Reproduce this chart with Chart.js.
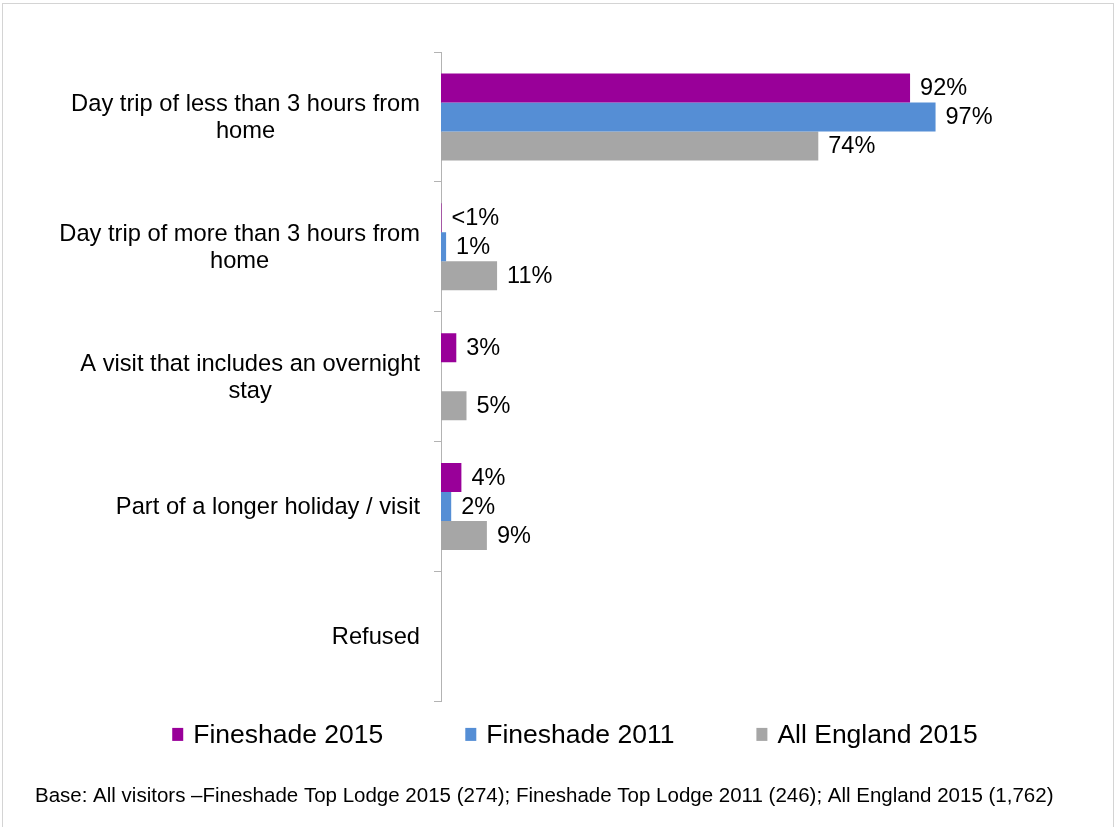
<!DOCTYPE html>
<html>
<head>
<meta charset="utf-8">
<title>Type of visit</title>
<script src="https://cdn.jsdelivr.net/npm/chart.js@4.4.1/dist/chart.umd.min.js"></script>
<style>
    html, body { margin: 0; padding: 0; background: #fff; }
    #wrap { position: relative; width: 1114px; height: 827px; overflow: hidden; }
    #frame { position: absolute; left: 2px; top: 3px; width: 1110px; height: 840px; border: 1px solid #d4d4d4; }
    canvas { position: absolute; left: 0; top: 0; }
</style>
</head>
<body>
<div id="wrap">
    <div id="frame"></div>
    <canvas id="visitChart" width="1114" height="827"></canvas>
</div>
<script>
// categories (each entry is the wrapped lines of one label)
const categories = [
    ['Day trip of less than 3 hours from', 'home'],
    ['Day trip of more than 3 hours from', 'home'],
    ['A visit that includes an overnight', 'stay'],
    ['Part of a longer holiday / visit'],
    ['Refused']
];

// percentages per series, null = no answer recorded
const fineshade2015 = [92, 0.1, 3, 4, null];
const fineshade2011 = [97, 1, null, 2, null];
const allEngland2015 = [74, 11, 5, 9, null];

const seriesNames = ['Fineshade 2015', 'Fineshade 2011', 'All England 2015'];
const seriesColours = ['#990099', '#558ed5', '#a6a6a6'];

const baseNote = 'Base: All visitors –Fineshade Top Lodge 2015 (274); Fineshade Top Lodge 2011 (246); All England 2015 (1,762)';

const FONT = 'Arial, "Liberation Sans", sans-serif';
Chart.defaults.font.family = FONT;
Chart.defaults.color = '#000';

function pctLabel(v) {
    return v < 1 ? '<1%' : v + '%';
}

// wrapped category names, right aligned block with centred lines
const categoryLabels = {
    id: 'categoryLabels',
    afterDraw(chart) {
        const y = chart.scales.y;
        const ctx = chart.ctx;
        ctx.save();
        ctx.font = '23.7px ' + FONT;
        ctx.fillStyle = '#000';
        ctx.textAlign = 'center';
        ctx.textBaseline = 'middle';
        const right = y.right - 21;
        categories.forEach((lines, i) => {
            const w = Math.max(...lines.map(l => ctx.measureText(l).width));
            const cy = y.getPixelForValue(i) + 1;
            const top = cy - (lines.length - 1) * 27 / 2;
            lines.forEach((l, j) => ctx.fillText(l, right - w / 2, top + j * 27));
        });
        ctx.restore();
    }
};

// percentage next to the end of each bar
const valueLabels = {
    id: 'valueLabels',
    afterDatasetsDraw(chart) {
        const ctx = chart.ctx;
        ctx.save();
        ctx.font = '23.5px ' + FONT;
        ctx.fillStyle = '#000';
        ctx.textAlign = 'left';
        ctx.textBaseline = 'middle';
        chart.data.datasets.forEach((ds, di) => {
            const meta = chart.getDatasetMeta(di);
            meta.data.forEach((bar, i) => {
                const v = ds.data[i];
                if (v === null || v === undefined) return;
                ctx.fillText(pctLabel(v), bar.x + 10, bar.y + 1);
            });
        });
        ctx.restore();
    }
};

// legend row under the plot
const legendRow = {
    id: 'legendRow',
    afterDraw(chart) {
        const ctx = chart.ctx;
        const box = 11, gap = 10, spacing = 82;
        ctx.save();
        ctx.font = '26.5px ' + FONT;
        ctx.textAlign = 'left';
        ctx.textBaseline = 'middle';
        const widths = chart.data.datasets.map(ds => box + gap + ctx.measureText(ds.label).width);
        const total = widths.reduce((a, b) => a + b, 0) + spacing * (widths.length - 1);
        let x = 575 - total / 2;
        const cy = chart.chartArea.bottom + 33;
        chart.data.datasets.forEach((ds, i) => {
            ctx.fillStyle = ds.backgroundColor;
            ctx.fillRect(x, cy - 6.5, box, 13);
            ctx.fillStyle = '#000';
            ctx.fillText(ds.label, x + box + gap, cy + 1);
            x += widths[i] + spacing;
        });
        ctx.restore();
    }
};

const ctx = document.getElementById('visitChart').getContext('2d');
const visitChart = new Chart(ctx, {
    type: 'bar',
    data: {
        labels: categories,
        datasets: [fineshade2015, fineshade2011, allEngland2015].map((values, i) => ({
            label: seriesNames[i],
            data: values,
            backgroundColor: seriesColours[i],
            borderWidth: 0,
            categoryPercentage: 0.67,
            barPercentage: 1
        }))
    },
    options: {
        indexAxis: 'y',
        responsive: false,
        animation: false,
        layout: {
            padding: { left: 35, right: 0, top: 52, bottom: 0 }
        },
        scales: {
            x: {
                display: false,
                min: 0,
                max: 132
            },
            y: {
                grid: {
                    offset: true,
                    drawOnChartArea: false,
                    tickLength: 7,
                    color: '#b3b3b3'
                },
                border: { color: '#b3b3b3', width: 1 },
                ticks: { display: false },
                afterFit(scale) {
                    scale.width = 406;
                }
            }
        },
        plugins: {
            legend: { display: false },
            tooltip: { enabled: false },
            title: {
                display: true,
                position: 'bottom',
                align: 'start',
                text: baseNote,
                color: '#000',
                font: { size: 20.5, weight: 'normal' },
                padding: { top: 83, bottom: 18 }
            }
        }
    },
    plugins: [categoryLabels, valueLabels, legendRow]
});
</script>
</body>
</html>
